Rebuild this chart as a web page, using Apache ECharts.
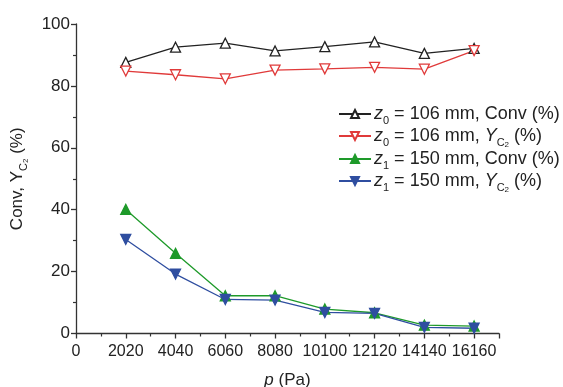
<!DOCTYPE html>
<html>
<head>
<meta charset="utf-8">
<script src="https://cdn.jsdelivr.net/npm/echarts@6/dist/echarts.min.js"></script>
<style>
  html, body { margin: 0; padding: 0; background: #fff; }
  #chart { width: 563px; height: 387px; }
</style>
</head>
<body>
<div id="chart"></div>
<script>
const pressures = [2020, 4040, 6060, 8080, 10100, 12120, 14140, 16160];
const convZ0 = [87.6, 92.5, 93.8, 91.3, 92.7, 94.2, 90.5, 92.1];
const yieldZ0 = [84.8, 83.6, 82.3, 85.1, 85.5, 86.0, 85.4, 91.4];
const convZ1 = [40.1, 25.9, 12.2, 12.2, 7.9, 6.7, 2.7, 2.4];
const yieldZ1 = [30.4, 19.2, 11.0, 10.8, 6.8, 6.5, 2.0, 1.7];

const font = 'Liberation Sans, Arial, sans-serif';
const chart = echarts.init(document.getElementById('chart'));

const pairs = vals => pressures.map((p, i) => [p, vals[i]]);

function richSet(size) {
  return {
    i: { fontStyle: 'italic', fontSize: size, fontFamily: font, color: '#222', lineHeight: 18 },
    u: { fontSize: size, fontFamily: font, color: '#222', lineHeight: 18 },
    s: { fontSize: 11, fontFamily: font, color: '#222', verticalAlign: 'bottom', padding: [0, 0, -3, 0] },
    ss: { fontSize: 8, fontFamily: font, color: '#222', verticalAlign: 'bottom', padding: [0, 0, -4, 0] },
    t: { fontSize: size, fontFamily: font, color: '#222', lineHeight: 18 }
  };
}

const names = [
  'z0 = 106 mm, Conv (%)',
  'z0 = 106 mm, Y (%)',
  'z1 = 150 mm, Conv (%)',
  'z1 = 150 mm, Y  (%)'
];
const labels = {};
labels[names[0]] = '{i|z}{s|0}{t| = 106 mm, Conv (%)}';
labels[names[1]] = '{i|z}{s|0}{t| = 106 mm, }{i|Y}{s|C}{ss|2}{t| (%)}';
labels[names[2]] = '{i|z}{s|1}{t| = 150 mm, Conv (%)}';
labels[names[3]] = '{i|z}{s|1}{t| = 150 mm, }{i|Y}{s|C}{ss|2}{t| (%)}';

function series(name, vals, color, rot, filled) {
  return {
    name: name,
    type: 'line',
    data: pairs(vals),
    symbol: 'triangle',
    symbolSize: 10,
    symbolRotate: rot,
    lineStyle: { color: color, width: 1.3 },
    itemStyle: { color: filled ? color : '#fff', borderColor: color, borderWidth: 1.3 }
  };
}

chart.setOption({
  animation: false,
  grid: { left: 76, right: 64, top: 24, bottom: 53.5, containLabel: false, outerBoundsMode: 'none' },
  legend: {
    orient: 'vertical',
    left: 333,
    top: 100,
    itemWidth: 32,
    itemHeight: 10,
    itemGap: 1,
    data: names,
    formatter: n => labels[n],
    textStyle: { rich: richSet(18), fontSize: 18, fontFamily: font, padding: [0, 0, 0, -2] }
  },
  xAxis: {
    type: 'value',
    min: 0,
    max: 17170,
    interval: 2020,
    name: '{i|p}{t| (Pa)}',
    nameLocation: 'middle',
    nameGap: 38,
    nameTextStyle: { rich: richSet(17) },
    axisLine: { lineStyle: { color: '#333', width: 1.3 } },
    axisTick: { inside: false, length: 5, lineStyle: { color: '#333', width: 1.3 } },
    minorTick: { show: true, splitNumber: 2, length: 3, lineStyle: { color: '#333', width: 1.2 } },
    splitLine: { show: false },
    axisLabel: {
      showMaxLabel: false, fontSize: 16, fontFamily: font, color: '#222', margin: 10,
      formatter: v => String(v)
    }
  },
  yAxis: {
    type: 'value',
    min: 0,
    max: 100,
    interval: 20,
    name: '{u|Conv, Y}{s|C}{ss|2}{t| (%)}',
    nameLocation: 'middle',
    nameRotate: 90,
    nameGap: 50,
    nameTextStyle: { rich: richSet(17) },
    axisLine: { show: true, lineStyle: { color: '#333', width: 1.3 } },
    axisTick: { show: true, length: 5, lineStyle: { color: '#333', width: 1.3 } },
    minorTick: { show: true, splitNumber: 2, length: 3, lineStyle: { color: '#333', width: 1.2 } },
    splitLine: { show: false },
    axisLabel: { fontSize: 17, fontFamily: font, color: '#222', margin: 6 }
  },
  series: [
    series(names[0], convZ0, '#222222', 0, false),
    series(names[1], yieldZ0, '#e03a3a', 180, false),
    series(names[2], convZ1, '#1e9a2a', 0, true),
    series(names[3], yieldZ1, '#2f4ea0', 180, true)
  ]
});
</script>
</body>
</html>
